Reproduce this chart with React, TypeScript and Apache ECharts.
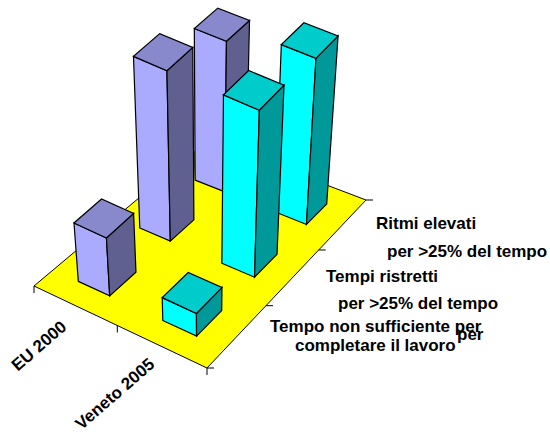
import React, { useEffect, useRef } from "react";
import * as echarts from "echarts";

// Row names along the depth axis, nearest first.
const depthRows = ["Tempo non sufficiente", "Tempi ristretti", "Ritmi elevati"];
const eu2000 = [20, 57, 49];
const veneto2005 = [8, 57, 55];

// Category labels drawn under the front-left edge of the floor.
const categoryLabels = ["EU 2000", "Veneto 2005"];
const depthLabels = [
  "Ritmi elevati",
  "per >25% del tempo",
  "Tempi ristretti",
  "per >25% del tempo",
  "Tempo non sufficiente per",
  "completare il lavoro",
  "per",
];

const FONT = "bold 17px 'Liberation Sans', Arial, sans-serif";

// Floor quad on screen: left, front, right, back corners.
const FLOOR: number[][] = [
  [34, 286],
  [207, 368],
  [366, 200],
  [208, 140],
];
// Point where vertical edges converge below the chart.
const VANISH = [205, 2000];
const RISE_PER_PIXEL = 0.0017;

const BAR_HALF_U = 0.095;
const BAR_HALF_V = 0.07;

// Unit-square to quad homography.
function makeFloor(q: number[][]) {
  const [[x0, y0], [x1, y1], [x2, y2], [x3, y3]] = q;
  const dx1 = x1 - x2, dx2 = x3 - x2, sx = x0 - x1 + x2 - x3;
  const dy1 = y1 - y2, dy2 = y3 - y2, sy = y0 - y1 + y2 - y3;
  const den = dx1 * dy2 - dx2 * dy1;
  const g = (sx * dy2 - dx2 * sy) / den;
  const h = (dx1 * sy - sx * dy1) / den;
  const a = x1 - x0 + g * x1, b = x3 - x0 + h * x3;
  const d = y1 - y0 + g * y1, e = y3 - y0 + h * y3;
  return (u: number, v: number) => {
    const w = g * u + h * v + 1;
    return [(a * u + b * v + x0) / w, (d * u + e * v + y0) / w];
  };
}
const floorAt = makeFloor(FLOOR);

const raise = (p: number[], t: number) => [
  p[0] + (p[0] - VANISH[0]) * t,
  p[1] + (p[1] - VANISH[1]) * t,
];

const EDGE = { stroke: "#000", lineWidth: 1.2 };

function barRenderer(colors: { front: string; top: string; side: string }, catIndex: number) {
  return (_params: any, api: any) => {
    const row = api.value(0);
    const heightPx = api.size([0, api.value(1)])[1];
    const t = heightPx * RISE_PER_PIXEL;
    const uc = (catIndex + 0.5) / categoryLabels.length;
    const vc = (row + 0.5) / depthRows.length;
    const left = floorAt(uc - BAR_HALF_U, vc - BAR_HALF_V);
    const front = floorAt(uc + BAR_HALF_U, vc - BAR_HALF_V);
    const right = floorAt(uc + BAR_HALF_U, vc + BAR_HALF_V);
    const back = floorAt(uc - BAR_HALF_U, vc + BAR_HALF_V);
    const [tl, tf, tr, tb] = [left, front, right, back].map((p) => raise(p, t));
    const face = (points: number[][], fill: string) => ({
      type: "polygon",
      shape: { points },
      style: { fill, ...EDGE },
    });
    return {
      type: "group",
      children: [
        face([left, front, tf, tl], colors.front),
        face([front, right, tr, tf], colors.side),
        face([tl, tf, tr, tb], colors.top),
      ],
    };
  };
}

function floorRenderer() {
  const tick = (p: number[], dx: number, dy: number) => ({
    type: "line",
    shape: { x1: p[0], y1: p[1], x2: p[0] + dx, y2: p[1] + dy },
    style: { stroke: "#000", lineWidth: 1 },
  });
  const children: any[] = [
    {
      type: "polygon",
      shape: { points: FLOOR },
      style: { fill: "#ffff00", stroke: "#000", lineWidth: 1 },
    },
    {
      // Shaded strip of floor showing behind the tallest rear bar.
      type: "polygon",
      shape: {
        points: [floorAt(0, 0.9), floorAt(0, 1), floorAt(0.155, 0.763)],
      },
      style: { fill: "#808000" },
    },
  ];
  for (let i = 0; i <= categoryLabels.length; i++) {
    children.push(tick(floorAt(i / categoryLabels.length, 0), 0, 7));
  }
  for (let i = 0; i <= depthRows.length; i++) {
    children.push(tick(floorAt(1, i / depthRows.length), 7, 0));
  }
  return { type: "group", children };
}

const rowsBackToFront = (values: number[]) =>
  values.map((v, i) => [i, v]).reverse();

const sideText = (text: string, x: number, y: number) => ({
  type: "text",
  x,
  y,
  style: { text, font: FONT, fill: "#000", textAlign: "left", textVerticalAlign: "middle" },
});

const axisText = (text: string, x: number, y: number) => ({
  type: "text",
  x,
  y,
  rotation: (41 * Math.PI) / 180,
  style: { text, font: FONT, fill: "#000", textAlign: "center", textVerticalAlign: "middle" },
});

export default function App() {
  const ref = useRef<HTMLDivElement>(null);
  useEffect(() => {
    const chart = echarts.init(ref.current!, undefined, { renderer: "svg" });
    chart.setOption({
      animation: false,
      backgroundColor: "#ffffff",
      grid: { left: 0, top: 0, width: 550, height: 100 },
      xAxis: { type: "category", data: depthRows, show: false },
      yAxis: { type: "value", min: 0, max: 100, show: false },
      series: [
        {
          type: "custom",
          name: "floor",
          coordinateSystem: "cartesian2d",
          clip: false,
          silent: true,
          renderItem: floorRenderer,
          data: [[0, 0]],
        },
        {
          type: "custom",
          name: categoryLabels[0],
          coordinateSystem: "cartesian2d",
          clip: false,
          silent: true,
          encode: { x: 0, y: 1 },
          renderItem: barRenderer({ front: "#aaaaff", top: "#8888cc", side: "#606090" }, 0),
          data: rowsBackToFront(eu2000),
        },
        {
          type: "custom",
          name: categoryLabels[1],
          coordinateSystem: "cartesian2d",
          clip: false,
          silent: true,
          encode: { x: 0, y: 1 },
          renderItem: barRenderer({ front: "#00ffff", top: "#00cccc", side: "#009999" }, 1),
          data: rowsBackToFront(veneto2005),
        },
      ],
      graphic: {
        elements: [
          axisText(categoryLabels[0], 39, 346),
          axisText(categoryLabels[1], 115, 394),
          sideText(depthLabels[0], 376, 223),
          sideText(depthLabels[1], 387, 251),
          sideText(depthLabels[2], 326, 276),
          sideText(depthLabels[3], 338, 303),
          sideText(depthLabels[4], 270, 326),
          sideText(depthLabels[5], 295, 345),
          sideText(depthLabels[6], 457, 334),
        ],
      },
    });
    return () => chart.dispose();
  }, []);
  return (
    <div
      ref={ref}
      style={{ position: "fixed", left: 0, top: 0, width: 550, height: 432 }}
    />
  );
}
